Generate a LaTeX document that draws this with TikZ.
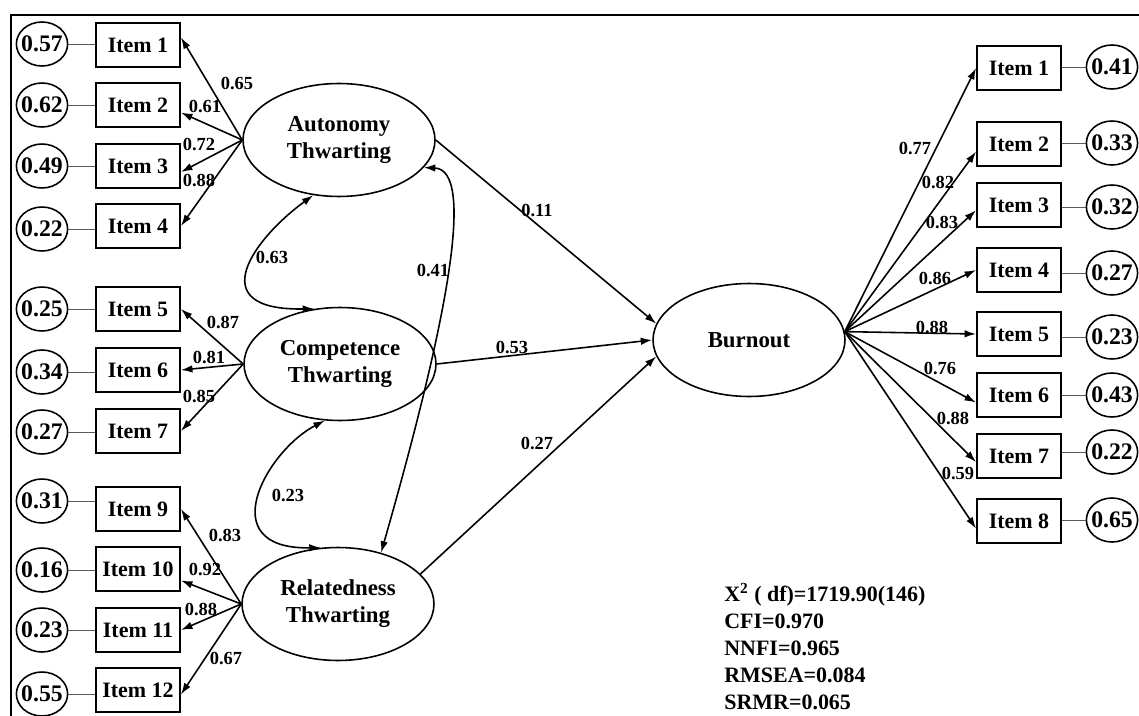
\documentclass[tikz,border=0pt]{standalone}
\usepackage{fontspec}
\setmainfont{Liberation Serif}
\usetikzlibrary{arrows,arrows.meta}
\usetikzlibrary{shapes}
\usetikzlibrary{backgrounds,positioning}

\begin{document}
\begin{tikzpicture}[x=0.02cm,y=-0.02cm]
      \tikzstyle{item}=[draw, rectangle, line width=1.1pt, minimum width=1.68cm, minimum height=0.88cm, inner sep=0pt, font=\fontsize{12.5}{14}\selectfont\bfseries]
      \tikzstyle{err}=[draw, ellipse, line width=0.9pt, minimum width=1.02cm, minimum height=0.88cm, inner xsep=-1.5pt, inner ysep=0pt, font=\fontsize{13.5}{15}\selectfont\bfseries]
      \tikzstyle{lat}=[draw, ellipse, line width=0.9pt, minimum width=3.84cm, minimum height=2.26cm, inner sep=0pt, align=center, font=\fontsize{13}{15.3}\selectfont\bfseries]
      \tikzstyle{lbl}=[inner sep=0pt, font=\fontsize{10.5}{12}\selectfont\bfseries]
      \tikzstyle{load}=[-{Latex[length=2.3mm,width=1.5mm]}, line width=0.9pt]
      \tikzstyle{cov}=[{Latex[length=2.3mm,width=1.5mm]}-{Latex[length=2.3mm,width=1.5mm]}, line width=0.9pt]
      \tikzstyle{res}=[gray!70!black, line width=0.5pt]

      \useasboundingbox (0,0) rectangle (1139,716);
      \draw[line width=1.1pt] (11,716) -- (11,15) -- (1139,15);

      % latent factors
      \node[lat] (aut) at (339,140) {Autonomy\\Thwarting};
      \node[lat] (com) at (340,364) {Competence\\Thwarting};
      \node[lat] (rel) at (338,604) {Relatedness\\Thwarting};
      \node[lat] (bur) at (749,340) {Burnout};

      % left indicators
      \node[item] (a1) at (138,45)  {Item 1};
      \node[item] (a2) at (138,105) {Item 2};
      \node[item] (a3) at (138,166) {Item 3};
      \node[item] (a4) at (138,226) {Item 4};
      \node[item] (c5) at (138,309) {Item 5};
      \node[item] (c6) at (138,370) {Item 6};
      \node[item] (c7) at (138,431) {Item 7};
      \node[item] (r9) at (138,509)  {Item 9};
      \node[item] (r10) at (138,569) {Item 10};
      \node[item] (r11) at (138,630) {Item 11};
      \node[item] (r12) at (138,690) {Item 12};

      \node[err] (e1) at (42,44)   {0.57};
      \node[err] (e2) at (42,105)  {0.62};
      \node[err] (e3) at (42,166)  {0.49};
      \node[err] (e4) at (42,229)  {0.22};
      \node[err] (e5) at (42,309)  {0.25};
      \node[err] (e6) at (42,372)  {0.34};
      \node[err] (e7) at (42,432)  {0.27};
      \node[err] (e9) at (42,501)  {0.31};
      \node[err] (e10) at (42,570) {0.16};
      \node[err] (e11) at (42,630) {0.23};
      \node[err] (e12) at (42,694) {0.55};

      % right indicators
      \node[item] (b1) at (1019,68)  {Item 1};
      \node[item] (b2) at (1019,144) {Item 2};
      \node[item] (b3) at (1019,205) {Item 3};
      \node[item] (b4) at (1019,270) {Item 4};
      \node[item] (b5) at (1019,334) {Item 5};
      \node[item] (b6) at (1019,395) {Item 6};
      \node[item] (b7) at (1019,456) {Item 7};
      \node[item] (b8) at (1019,521) {Item 8};

      \node[err] (f1) at (1112,67)  {0.41};
      \node[err] (f2) at (1112,143) {0.33};
      \node[err] (f3) at (1112,207) {0.32};
      \node[err] (f4) at (1112,273) {0.27};
      \node[err] (f5) at (1112,337) {0.23};
      \node[err] (f6) at (1112,395) {0.43};
      \node[err] (f7) at (1112,452) {0.22};
      \node[err] (f8) at (1112,520) {0.65};

      % residual links
      \draw[res] (e1.east) -- (e1.east -| a1.west);
      \draw[res] (e2.east) -- (e2.east -| a2.west);
      \draw[res] (e3.east) -- (e3.east -| a3.west);
      \draw[res] (e4.east) -- (e4.east -| a4.west);
      \draw[res] (e5.east) -- (e5.east -| c5.west);
      \draw[res] (e6.east) -- (e6.east -| c6.west);
      \draw[res] (e7.east) -- (e7.east -| c7.west);
      \draw[res] (e9.east) -- (e9.east -| r9.west);
      \draw[res] (e10.east) -- (e10.east -| r10.west);
      \draw[res] (e11.east) -- (e11.east -| r11.west);
      \draw[res] (e12.east) -- (e12.east -| r12.west);
      \draw[res] (f1.west) -- (f1.west -| b1.east);
      \draw[res] (f2.west) -- (f2.west -| b2.east);
      \draw[res] (f3.west) -- (f3.west -| b3.east);
      \draw[res] (f4.west) -- (f4.west -| b4.east);
      \draw[res] (f5.west) -- (f5.west -| b5.east);
      \draw[res] (f6.west) -- (f6.west -| b6.east);
      \draw[res] (f7.west) -- (f7.west -| b7.east);
      \draw[res] (f8.west) -- (f8.west -| b8.east);

      % loadings
      \draw[load] (aut.west) -- (a1.10)  node[lbl] at (237,83)  {0.65};
      \draw[load] (aut.west) -- (a2.-10) node[lbl] at (205,106) {0.61};
      \draw[load] (aut.west) -- (a3.-8)  node[lbl] at (199,144) {0.72};
      \draw[load] (aut.west) -- (a4.east) node[lbl] at (199,180) {0.88};
      \draw[load] (com.west) -- (c5.east) node[lbl] at (223,322) {0.87};
      \draw[load] (com.west) -- (c6.east) node[lbl] at (209,357) {0.81};
      \draw[load] (com.west) -- (c7.east) node[lbl] at (199,396) {0.85};
      \draw[load] (rel.west) -- (r9.east)  node[lbl] at (225,535) {0.83};
      \draw[load] (rel.west) -- (r10.-15) node[lbl] at (205,569) {0.92};
      \draw[load] (rel.west) -- (r11.east) node[lbl] at (201,609) {0.88};
      \draw[load] (rel.west) -- (r12.-6)  node[lbl] at (226,658) {0.67};

      \draw[load] (bur.5) -- (b1.west) node[lbl] at (915,148) {0.77};
      \draw[load] (bur.5) -- (b2.190) node[lbl] at (938,182) {0.82};
      \draw[load] (bur.5) -- (b3.187) node[lbl] at (942,222) {0.83};
      \draw[load] (bur.5) -- (b4.west) node[lbl] at (935,278) {0.86};
      \draw[load] (bur.5) -- (b5.west) node[lbl] at (932,327) {0.88};
      \draw[load] (bur.5) -- (b6.190) node[lbl] at (940,368) {0.76};
      \draw[load] (bur.5) -- (b7.188) node[lbl] at (953,418) {0.88};
      \draw[load] (bur.5) -- (b8.190) node[lbl] at (958,473) {0.59};

      % paths to burnout
      \draw[load] (aut.east) -- (bur.170) node[lbl] at (537,210) {0.11};
      \draw[load] (com.east) -- (bur.west) node[lbl] at (512,347) {0.53};
      \draw[load] (rel.20) -- (bur.190)  node[lbl] at (537,443) {0.27};

      % correlations
      \draw[cov] (aut.245) .. controls +(-59,43) and +(-114,2) .. (com.115) node[lbl] at (272,257) {0.63};
      \draw[cov] (com.255) .. controls +(-58,30) and +(-110,2) .. (rel.107) node[lbl] at (288,495) {0.23};
      \draw[cov] (aut.342) .. controls +(51,2) and +(69,-241) .. (rel.50) node[lbl] at (433,270) {0.41};

      \node[anchor=north west, inner sep=0pt, align=left, font=\fontsize{12.5}{15.4}\selectfont\bfseries] (fit) at (724,583)
        {X\textsuperscript{2} ( df)=1719.90(146)\\CFI=0.970\\NNFI=0.965\\RMSEA=0.084\\SRMR=0.065};
\end{tikzpicture}
\end{document}
